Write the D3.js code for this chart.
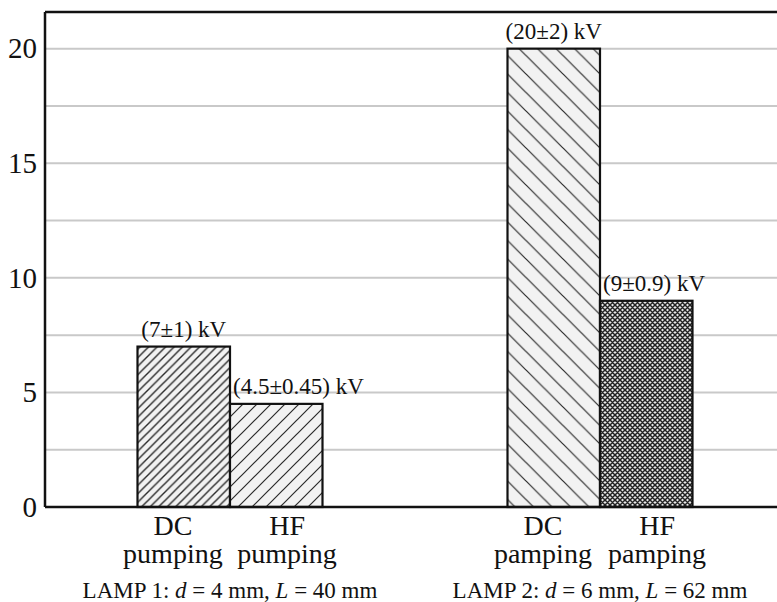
<!DOCTYPE html>
<html>
<head>
<meta charset="utf-8">
<script src="https://cdn.jsdelivr.net/npm/d3@7"></script>
<style>
  body { margin: 0; background: #fff; }
</style>
</head>
<body>
<div id="chart"></div>
<script>
// data
var lamps = ["LAMP 1", "LAMP 2"];
var lampSpecs = [["4", "40"], ["6", "62"]];
var pumpings = ["DC", "HF"];
var pumpWords = [["pumping", "pumping"], ["pamping", "pamping"]];
var values = [[7, 4.5], [20, 9]];
var valueLabels = [["(7\u00b11) kV", "(4.5\u00b10.45) kV"], ["(20\u00b12) kV", "(9\u00b10.9) kV"]];
var yTicks = [0, 5, 10, 15, 20];
var gridTicks = [2.5, 5, 7.5, 10, 12.5, 15, 17.5, 20];

var FONT = "'Liberation Serif', 'Times New Roman', serif";
var W = 777, H = 602;
var margin = {top: 12, left: 45, bottom: 95};
var height = H - margin.bottom;

var svg = d3.select("#chart")
    .append("svg")
    .attr("width", W)
    .attr("height", H)
    .style("font-family", FONT);

// hatch patterns
var defs = svg.append("defs");
function hatch(id, size, dir, sw) {
    var p = defs.append("pattern")
        .attr("id", id)
        .attr("patternUnits", "userSpaceOnUse")
        .attr("width", size)
        .attr("height", size);
    p.append("rect").attr("width", size).attr("height", size).attr("fill", "#f2f2f2");
    var s = size;
    var d = dir > 0
        ? "M0," + s + " L" + s + ",0 M-2,2 L2,-2 M" + (s - 2) + "," + (s + 2) + " L" + (s + 2) + "," + (s - 2)
        : "M0,0 L" + s + "," + s + " M-2," + (s - 2) + " L2," + (s + 2) + " M" + (s - 2) + ",-2 L" + (s + 2) + ",2";
    p.append("path").attr("d", d).attr("stroke", "#2a2a2a").attr("stroke-width", sw);
}
hatch("h0", 8.5, 1, 1.4);
hatch("h1", 14, 1, 1.2);
hatch("h2", 18.5, -1, 1.2);
var cross = defs.append("pattern")
    .attr("id", "h3")
    .attr("patternUnits", "userSpaceOnUse")
    .attr("width", 5)
    .attr("height", 5);
cross.append("rect").attr("width", 5).attr("height", 5).attr("fill", "#e8e8e8");
cross.append("path")
    .attr("d", "M0,0 L5,5 M0,5 L5,0 M-1,1 L1,-1 M4,6 L6,4 M-1,4 L1,6 M4,-1 L6,1")
    .attr("stroke", "#222").attr("stroke-width", 1.5);
var fills = [["url(#h0)", "url(#h1)"], ["url(#h2)", "url(#h3)"]];

// scales
var x0 = d3.scaleBand().domain(lamps).range([margin.left, 785]);
var x1 = d3.scaleBand().domain(pumpings).range([0, x0.bandwidth()]).paddingInner(0).paddingOuter(1);
var xl = d3.scaleBand().domain(pumpings).range([0, x0.bandwidth()]).paddingInner(0).paddingOuter(0.62);
var y = d3.scaleLinear().domain([0, 21.6]).range([height, margin.top]);

// grid
svg.append("g")
    .selectAll("line")
    .data(gridTicks)
    .enter()
    .append("line")
    .attr("x1", margin.left).attr("x2", W)
    .attr("y1", function (d) { return y(d); })
    .attr("y2", function (d) { return y(d); })
    .attr("stroke", "#c9c9c9")
    .attr("stroke-width", 2);

// y axis labels
var yAxis = svg.append("g")
    .attr("transform", "translate(" + margin.left + ",0)")
    .call(d3.axisLeft(y).tickValues(yTicks).tickSize(0).tickPadding(8));
yAxis.select(".domain").remove();
yAxis.selectAll("text")
    .style("font-family", FONT)
    .style("font-size", "29px")
    .attr("fill", "#111");

// bars
lamps.forEach(function (lamp, li) {
    var g = svg.append("g").attr("transform", "translate(" + x0(lamp) + ",0)");
    g.selectAll("rect")
        .data(pumpings)
        .enter()
        .append("rect")
        .attr("x", function (d) { return x1(d); })
        .attr("y", function (d, i) { return y(values[li][i]); })
        .attr("width", x1.bandwidth())
        .attr("height", function (d, i) { return height - y(values[li][i]); })
        .attr("fill", function (d, i) { return fills[li][i]; })
        .attr("stroke", "#111")
        .attr("stroke-width", 2.2);

    g.selectAll(".vlab")
        .data(pumpings)
        .enter()
        .append("text")
        .attr("class", "vlab")
        .attr("x", function (d, i) { return i === 0 ? x1(d) + x1.bandwidth() / 2 : x1(d) + 3; })
        .attr("y", function (d, i) { return y(values[li][i]) - 10; })
        .attr("text-anchor", function (d, i) { return i === 0 ? "middle" : "start"; })
        .attr("fill", "#111")
        .style("font-family", FONT)
        .style("font-size", "23px")
        .text(function (d, i) { return valueLabels[li][i]; });

    g.selectAll(".cat")
        .data(pumpings)
        .enter()
        .append("text")
        .attr("class", "cat")
        .attr("x", function (d) { return xl(d) + xl.bandwidth() / 2; })
        .attr("y", height + 28)
        .attr("text-anchor", "middle")
        .attr("fill", "#111")
        .style("font-family", FONT)
        .style("font-size", "28px")
        .text(function (d) { return d; });

    g.selectAll(".pw")
        .data(pumpings)
        .enter()
        .append("text")
        .attr("class", "pw")
        .attr("x", function (d) { return xl(d) + xl.bandwidth() / 2; })
        .attr("y", height + 56)
        .attr("text-anchor", "middle")
        .attr("fill", "#111")
        .style("font-family", FONT)
        .style("font-size", "28px")
        .text(function (d, i) { return pumpWords[li][i]; });

    var t = g.append("text")
        .attr("x", x0.bandwidth() / 2)
        .attr("y", height + 91)
        .attr("text-anchor", "middle")
        .attr("fill", "#111")
        .style("font-family", FONT)
        .style("font-size", "23px");
    t.append("tspan").text(lamp + ": ");
    t.append("tspan").style("font-style", "italic").text("d");
    t.append("tspan").text(" = " + lampSpecs[li][0] + " mm, ");
    t.append("tspan").style("font-style", "italic").text("L");
    t.append("tspan").text(" = " + lampSpecs[li][1] + " mm");
});

// frame: left axis, top border, baseline
svg.append("line")
    .attr("x1", margin.left).attr("x2", margin.left)
    .attr("y1", margin.top).attr("y2", height)
    .attr("stroke", "#111").attr("stroke-width", 2.5);
svg.append("line")
    .attr("x1", margin.left).attr("x2", W)
    .attr("y1", margin.top).attr("y2", margin.top)
    .attr("stroke", "#111").attr("stroke-width", 2.5);
svg.append("line")
    .attr("x1", margin.left).attr("x2", W)
    .attr("y1", height).attr("y2", height)
    .attr("stroke", "#111").attr("stroke-width", 2.5);
</script>
</body>
</html>
